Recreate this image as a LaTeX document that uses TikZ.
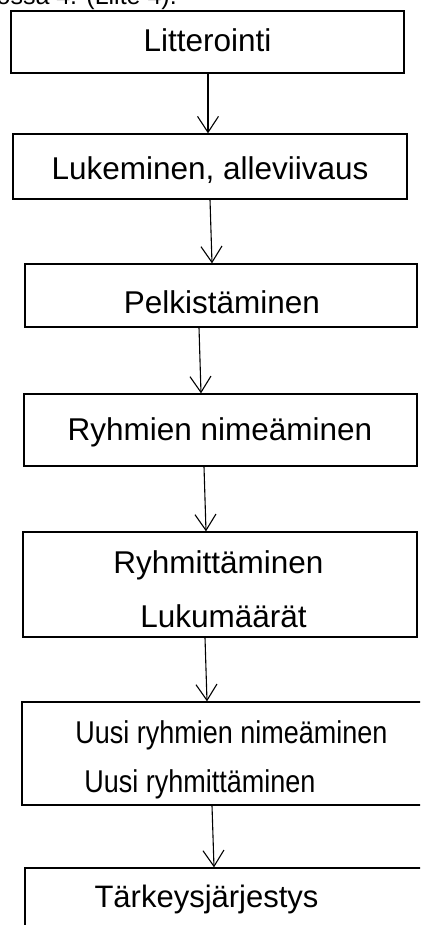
\documentclass[tikz,border=0pt]{standalone}
\usepackage{graphicx}
\usepackage{fontspec}
\setmainfont{Liberation Sans}
\usetikzlibrary{arrows.meta}
\newcommand{\narrowtxt}[1]{\scalebox{0.857}[1]{#1}}
\begin{document}
\begin{tikzpicture}[x=1pt,y=-1pt,
  box/.style={draw=black,line width=1.3pt,inner sep=0pt,fill=none},
  lbl/.style={anchor=base,inner sep=0pt,font=\fontsize{31.5}{38}\selectfont},
  conn/.style={draw=black,line width=1.1pt,-{Straight Barb[length=16pt,width=21pt,line width=1.1pt]}}]
\useasboundingbox (0,0) rectangle (420,925);
\clip (0,0) rectangle (420,925);
\fill[white] (0,0) rectangle (420,925);
% partially visible caption line at the top
\node[anchor=base east,inner sep=0pt,font=\fontsize{25}{30}\selectfont] (cap) at (177,5) {kuviossa 4. (Liite 4).};
% boxes
\node[box,minimum width=393pt,minimum height=62pt] (b1) at (207.5,42) {};
\node[box,minimum width=394pt,minimum height=65pt] (b2) at (210,166.5) {};
\node[box,minimum width=392pt,minimum height=63pt] (b3) at (221,295.5) {};
\node[box,minimum width=393pt,minimum height=72pt] (b4) at (220.5,430) {};
\node[box,minimum width=394pt,minimum height=105pt] (b5) at (220,584.5) {};
\node[box,minimum width=408pt,minimum height=103pt] (b6) at (226,753.5) {};
\node[box,minimum width=405pt,minimum height=82pt] (b7) at (227.5,909) {};
% texts
\node[lbl] (t1) at (207.5,52) {Litterointi};
\node[lbl] (t2) at (210,180) {Lukeminen, alleviivaus};
\node[lbl] (t3) at (222,313) {Pelkistäminen};
\node[lbl] (t4) at (220,440) {Ryhmien nimeäminen};
\node[lbl] (t5a) at (218.5,573) {Ryhmittäminen};
\node[lbl] (t5b) at (223.5,627) {Lukumäärät};
\node[lbl] (t6a) at (231.5,743) {\narrowtxt{Uusi ryhmien nimeäminen}};
\node[lbl] (t6b) at (200,792) {\narrowtxt{Uusi ryhmittäminen}};
\node[lbl,font=\fontsize{31}{37}\selectfont] (t7) at (206.5,907) {Tärkeysjärjestys};
% connectors
\draw[conn] ([xshift=0.5pt]b1.south) -- ([xshift=-2pt]b2.north);
\draw[conn] (b2.south) -- ([xshift=-9pt]b3.north);
\draw[conn] ([xshift=-22pt]b3.south) -- ([xshift=-19.5pt]b4.north);
\draw[conn] ([xshift=-16.5pt]b4.south) -- ([xshift=-14pt]b5.north);
\draw[conn] ([xshift=-15pt]b5.south) -- ([xshift=-19pt]b6.north);
\draw[conn] ([xshift=-14pt]b6.south) -- ([xshift=-13.5pt]b7.north);
\end{tikzpicture}
\end{document}
